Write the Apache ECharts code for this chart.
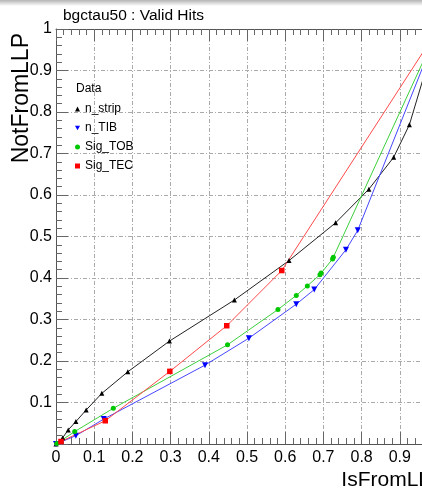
<!DOCTYPE html>
<html>
<head>
<meta charset="utf-8">
<script src="https://cdn.jsdelivr.net/npm/echarts@6/dist/echarts.min.js"></script>
<style>
  html, body { margin: 0; padding: 0; background: #fff; }
  #chart { width: 422px; height: 493px; }
</style>
</head>
<body>
<div id="chart"></div>
<script>
  // values (ROC-like curves, each ends at 1,1)
  const stripX = [0, 0.0175, 0.032, 0.052, 0.079, 0.12, 0.188, 0.297, 0.467, 0.61, 0.732, 0.819, 0.884, 0.925, 1];
  const stripY = [0, 0.015, 0.034, 0.054, 0.082, 0.122, 0.174, 0.248, 0.347, 0.442, 0.533, 0.614, 0.691, 0.769, 1];

  const tibX = [0, 0.052, 0.125, 0.39, 0.505, 0.629, 0.676, 0.759, 0.79, 1];
  const tibY = [0, 0.02, 0.06, 0.19, 0.255, 0.337, 0.372, 0.468, 0.515, 1];

  const tobX = [0.002, 0.049, 0.15, 0.449, 0.581, 0.629, 0.658, 0.691, 0.694, 0.724, 0.726, 1];
  const tobY = [0.001, 0.03, 0.086, 0.239, 0.324, 0.358, 0.381, 0.408, 0.412, 0.446, 0.45, 1];

  const tecX = [0.013, 0.129, 0.298, 0.447, 0.591, 1];
  const tecY = [0.006, 0.056, 0.175, 0.285, 0.418, 1];

  const xTickLabels = ['0', '0.1', '0.2', '0.3', '0.4', '0.5', '0.6', '0.7', '0.8', '0.9', '1'];
  const yTickLabels = ['', '0.1', '0.2', '0.3', '0.4', '0.5', '0.6', '0.7', '0.8', '0.9', '1'];

  const FONT = "'Liberation Sans', Arial, sans-serif";
  const downTri = 'path://M0,0 L10,0 L5,9 Z';

  function pairs(xs, ys) {
    return xs.map(function (x, i) { return [x, ys[i]]; });
  }

  function tickLabel(list) {
    return function (v) {
      const k = Math.round(v * 10);
      return Math.abs(v * 10 - k) < 1e-6 ? list[k] : '';
    };
  }

  function axisBase() {
    return {
      type: 'value',
      min: 0,
      max: 1,
      interval: 0.1,
      axisLine: { lineStyle: { color: '#555', width: 1 } },
      axisTick: { inside: true, length: 12, lineStyle: { color: '#666' } },
      minorTick: { show: true, splitNumber: 5, length: 6, lineStyle: { color: '#666' } }
    };
  }

  const xBottom = Object.assign(axisBase(), {
    position: 'bottom',
    name: 'IsFromLLP',
    nameLocation: 'end',
    nameGap: 6,
    nameTextStyle: {
      fontFamily: FONT, fontSize: 21, color: '#000',
      align: 'right', verticalAlign: 'top', padding: [26, 0, 0, 0]
    },
    axisLabel: {
      margin: 6, fontFamily: FONT, fontSize: 16, color: '#000',
      formatter: tickLabel(xTickLabels)
    },
    splitLine: { show: true, lineStyle: { color: '#aaa', type: [4, 2, 1, 2] } }
  });

  const xTop = Object.assign(axisBase(), {
    position: 'top',
    axisLabel: { show: false },
    splitLine: { show: false }
  });

  const yLeft = Object.assign(axisBase(), {
    position: 'left',
    axisLabel: {
      margin: 4, fontFamily: FONT, fontSize: 16, color: '#000',
      formatter: tickLabel(yTickLabels)
    },
    splitLine: { show: true, lineStyle: { color: '#aaa', type: [4, 2, 1, 2] } }
  });

  function lineSeries(name, xs, ys, symbol, size, color, lineColor) {
    return {
      name: name,
      type: 'line',
      data: pairs(xs, ys),
      symbol: symbol,
      symbolSize: size,
      showAllSymbol: true,
      clip: true,
      itemStyle: { color: color },
      lineStyle: { color: lineColor, width: 1 },
      emphasis: { disabled: true }
    };
  }

  const chart = echarts.init(document.getElementById('chart'), null, { renderer: 'canvas' });
  chart.setOption({
    animation: false,
    backgroundColor: '#fff',
    title: [{
      text: 'bgctau50 : Valid Hits',
      left: 58,
      top: 3,
      textStyle: { fontFamily: FONT, fontSize: 15.5, fontWeight: 'normal', color: '#000' }
    }, {
      text: 'Data',
      left: 76,
      top: 83,
      padding: 0,
      textStyle: { fontFamily: FONT, fontSize: 12, fontWeight: 'normal', color: '#000' }
    }],
    legend: {
      orient: 'vertical',
      left: 75,
      top: 103,
      itemWidth: 5,
      itemHeight: 5,
      itemGap: 7,
      padding: 0,
      textStyle: { fontFamily: FONT, fontSize: 12, color: '#000' },
      data: [
        { name: 'n_strip', icon: 'triangle' },
        { name: 'n_TIB', icon: downTri },
        { name: 'Sig_TOB', icon: 'circle' },
        { name: 'Sig_TEC', icon: 'rect' }
      ]
    },
    grid: { left: 56, right: -16, top: 29, bottom: 49, outerBoundsMode: 'none', containLabel: false },
    xAxis: [xBottom, xTop],
    yAxis: [yLeft],
    graphic: [{
      type: 'rect',
      shape: { x: 0, y: 0, width: 422, height: 6 },
      style: {
        fill: new echarts.graphic.LinearGradient(0, 0, 0, 1, [
          { offset: 0, color: '#b4b4b4' },
          { offset: 1, color: '#ffffff' }
        ])
      },
      silent: true
    }, {
      type: 'text',
      x: 22,
      y: 33,
      rotation: Math.PI / 2,
      style: {
        text: 'NotFromLLP',
        fontFamily: FONT,
        fontSize: 23,
        fill: '#000',
        align: 'right',
        verticalAlign: 'middle'
      },
      silent: true
    }],
    series: [
      lineSeries('n_strip', stripX, stripY, 'triangle', 5, '#000', '#222'),
      lineSeries('n_TIB', tibX, tibY, downTri, 6, '#0000ff', '#4646ff'),
      lineSeries('Sig_TOB', tobX, tobY, 'circle', 5, '#00c800', '#3ccf3c'),
      lineSeries('Sig_TEC', tecX, tecY, 'rect', 5.5, '#ff0000', '#ff4a4a')
    ]
  });
</script>
</body>
</html>
